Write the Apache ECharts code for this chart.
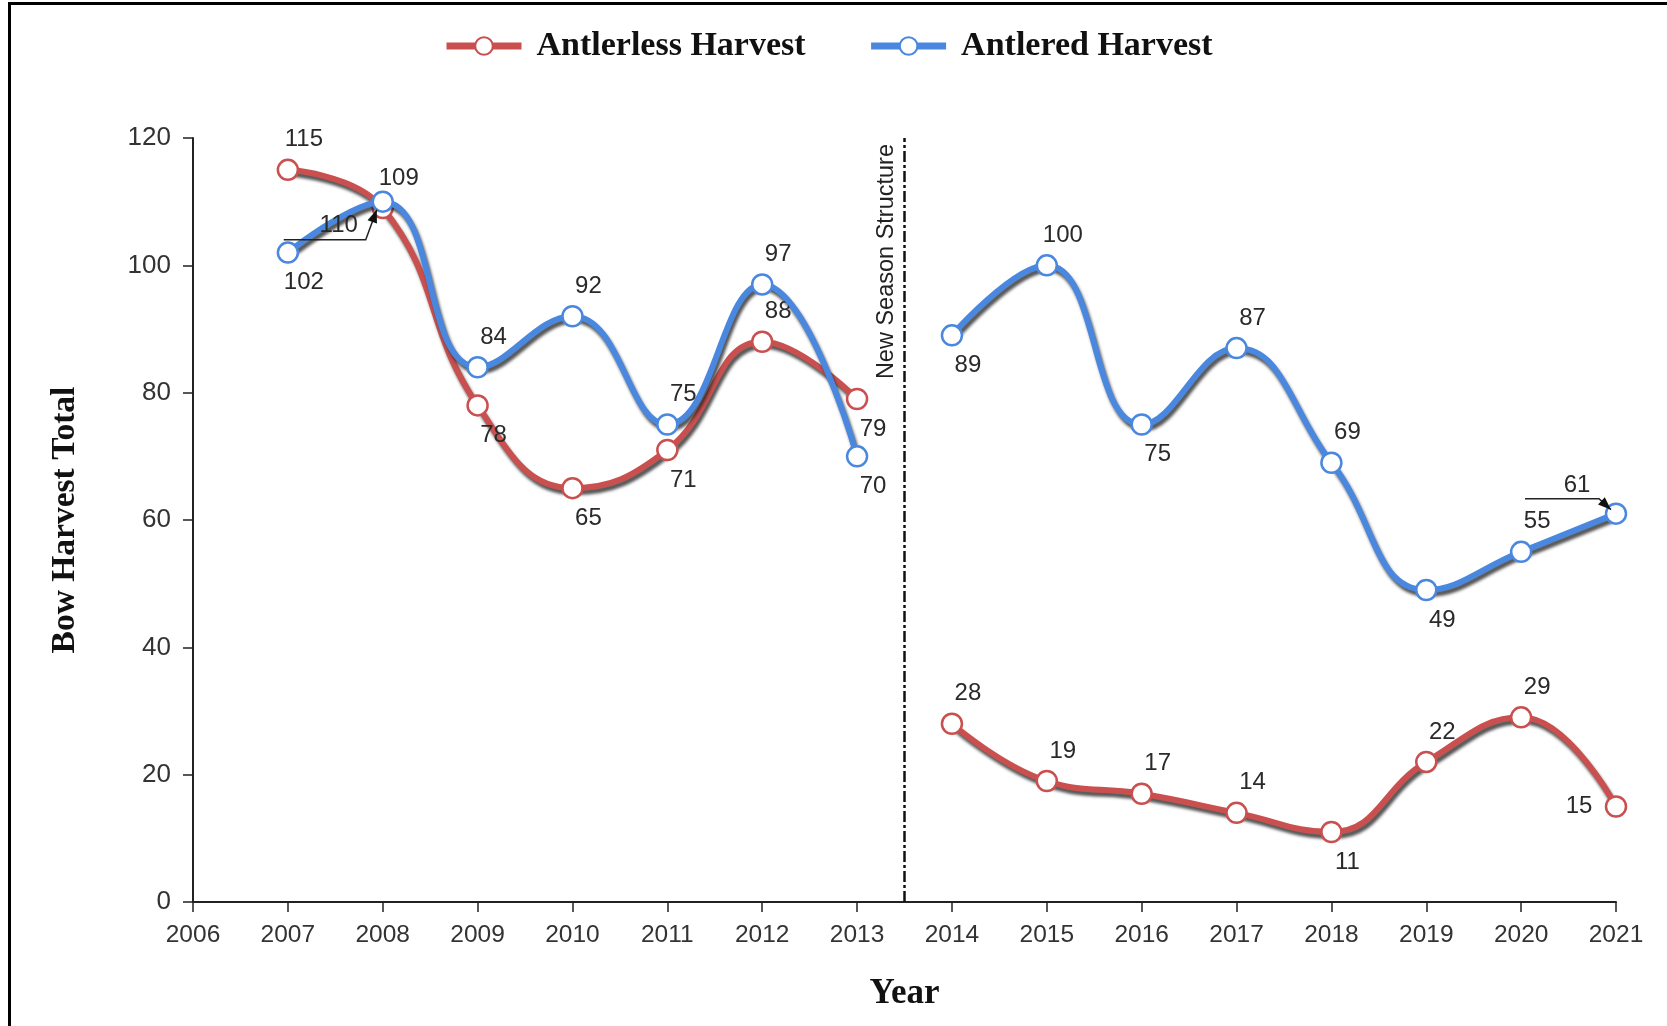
<!DOCTYPE html>
<html>
<head>
<meta charset="utf-8">
<title>Bow Harvest Total</title>
<script src="https://cdn.jsdelivr.net/npm/echarts@6/dist/echarts.min.js"></script>
<style>
  html, body { margin: 0; padding: 0; background: #fff; }
  #main { width: 1667px; height: 1026px; }
</style>
</head>
<body>
<div id="main"></div>
<script>
  // data
  var years = [2007, 2008, 2009, 2010, 2011, 2012, 2013, 2014, 2015, 2016, 2017, 2018, 2019, 2020, 2021];
  var antlerless = [115, 109, 78, 65, 71, 88, 79, 28, 19, 17, 14, 11, 22, 29, 15];
  var antlered = [102, 110, 84, 92, 75, 97, 70, 89, 100, 75, 87, 69, 49, 55, 61];
  var seasonBreak = 2013.5;
  var yTicks = [0, 20, 40, 60, 80, 100, 120];

  // where each value label sits next to its point
  var antlerlessSide = ['tr','tr','br','br','br','tr','br','tr','tr','tr','tr','br','tr','tr','l'];
  var antleredSide = ['br','c1','tr','tr','tr','tr','br','br','tr','br','tr','tr','br','tr','c2'];
  var sideOffset = {
    tr: [16, -30],
    br: [16, 30],
    l: [-37, 0],
    c1: [-44, 24],
    c2: [-39, -28]
  };

  var RED = '#c9504f';
  var BLUE = '#4a88e0';

  function buildData(values, sides) {
    var out = [];
    for (var i = 0; i < years.length; i++) {
      if (years[i] > seasonBreak && years[i - 1] < seasonBreak) {
        out.push([seasonBreak, '-']); // break the line at the new season structure
      }
      out.push({
        value: [years[i], values[i]],
        label: { offset: sideOffset[sides[i]] }
      });
    }
    return out;
  }

  function makeSeries(name, color, values, sides, z) {
    return {
      name: name,
      type: 'line',
      z: z,
      smooth: 0.45,
      connectNulls: false,
      symbol: 'circle',
      symbolSize: 20,
      data: buildData(values, sides),
      lineStyle: {
        color: color,
        width: 6,
        shadowColor: 'rgba(30,30,30,0.75)',
        shadowBlur: 3,
        shadowOffsetX: 2,
        shadowOffsetY: 4
      },
      itemStyle: {
        color: '#fff',
        borderColor: color,
        borderWidth: 2.5
      },
      label: {
        show: true,
        position: 'inside',
        align: 'center',
        verticalAlign: 'middle',
        fontFamily: 'Liberation Sans',
        fontSize: 24,
        color: '#2a2a2a'
      },
      emphasis: { disabled: true }
    };
  }

  var chart = echarts.init(document.getElementById('main'));

  var antleredSeries = makeSeries('Antlered Harvest', BLUE, antlered, antleredSide, 3);
  antleredSeries.markLine = {
    silent: true,
    symbol: 'none',
    lineStyle: { color: '#111', width: 2.5, type: [11, 3, 3, 3] },
    label: {
      show: true,
      position: 'insideEndTop',
      formatter: 'New Season Structure',
      fontFamily: 'Liberation Sans',
      fontSize: 23.5,
      color: '#222',
      distance: 6
    },
    data: [{ xAxis: seasonBreak }]
  };

  chart.setOption({
    animation: false,
    backgroundColor: '#fff',
    legend: {
      top: 29,
      left: 443,
      padding: 0,
      itemWidth: 75,
      itemHeight: 22,
      itemGap: 62,
      lineStyle: { width: 7 },
      textStyle: {
        fontFamily: 'Liberation Serif',
        fontWeight: 'bold',
        fontSize: 34,
        color: '#111',
        padding: [0, 0, 0, 10]
      },
      data: ['Antlerless Harvest', 'Antlered Harvest']
    },
    grid: { left: 193, right: 51, top: 138, bottom: 124 },
    xAxis: {
      type: 'value',
      min: 2006,
      max: 2021,
      interval: 1,
      name: 'Year',
      nameLocation: 'middle',
      nameGap: 74,
      nameTextStyle: {
        fontFamily: 'Liberation Serif',
        fontWeight: 'bold',
        fontSize: 35,
        color: '#111'
      },
      splitLine: { show: false },
      axisLine: { show: true, lineStyle: { color: '#222', width: 2 } },
      axisTick: { show: true, length: 10, lineStyle: { color: '#222', width: 1.5 } },
      axisLabel: {
        margin: 21,
        fontFamily: 'Liberation Sans',
        fontSize: 24.5,
        color: '#333',
        formatter: function (v) { return String(v); }
      }
    },
    yAxis: {
      type: 'value',
      min: yTicks[0],
      max: yTicks[yTicks.length - 1],
      interval: yTicks[1] - yTicks[0],
      name: 'Bow Harvest Total',
      nameLocation: 'middle',
      nameGap: 111,
      nameTextStyle: {
        fontFamily: 'Liberation Serif',
        fontWeight: 'bold',
        fontSize: 33.5,
        color: '#111'
      },
      splitLine: { show: false },
      axisLine: { show: true, lineStyle: { color: '#222', width: 2 } },
      axisTick: { show: true, length: 10, lineStyle: { color: '#222', width: 1.5 } },
      axisLabel: {
        margin: 22,
        fontFamily: 'Liberation Sans',
        fontSize: 26,
        color: '#333'
      }
    },
    series: [
      makeSeries('Antlerless Harvest', RED, antlerless, antlerlessSide, 2),
      antleredSeries
    ]
  });

  // callout arrows for the two labels that were pushed off their points
  function callout(x, y, pts) {
    var p = chart.convertToPixel({ gridIndex: 0 }, [x, y]);
    var abs = pts.map(function (d) { return [p[0] + d[0], p[1] + d[1]]; });
    var a = abs[abs.length - 2], b = abs[abs.length - 1];
    var dx = b[0] - a[0], dy = b[1] - a[1];
    var len = Math.sqrt(dx * dx + dy * dy);
    var ux = dx / len, uy = dy / len;
    var head = [
      [b[0], b[1]],
      [b[0] - ux * 13 - uy * 5, b[1] - uy * 13 + ux * 5],
      [b[0] - ux * 13 + uy * 5, b[1] - uy * 13 - ux * 5]
    ];
    return [
      { type: 'polyline', z: 10, shape: { points: abs }, style: { stroke: '#222', lineWidth: 1.5, fill: null } },
      { type: 'polygon', z: 10, shape: { points: head }, style: { fill: '#111' } }
    ];
  }

  var graphics = [
    // frame of the original figure (left and top edges)
    { type: 'rect', shape: { x: 8, y: 2, width: 3, height: 1024 }, style: { fill: '#000' } },
    { type: 'rect', shape: { x: 8, y: 2, width: 1659, height: 3 }, style: { fill: '#000' } }
  ];
  graphics = graphics.concat(callout(years[1], antlered[1], [[-99, 38], [-17, 38], [-6, 8]]));
  graphics = graphics.concat(callout(years[14], antlered[14], [[-91, -15], [-17, -15], [-5, -4]]));
  chart.setOption({ graphic: graphics });
</script>
</body>
</html>
